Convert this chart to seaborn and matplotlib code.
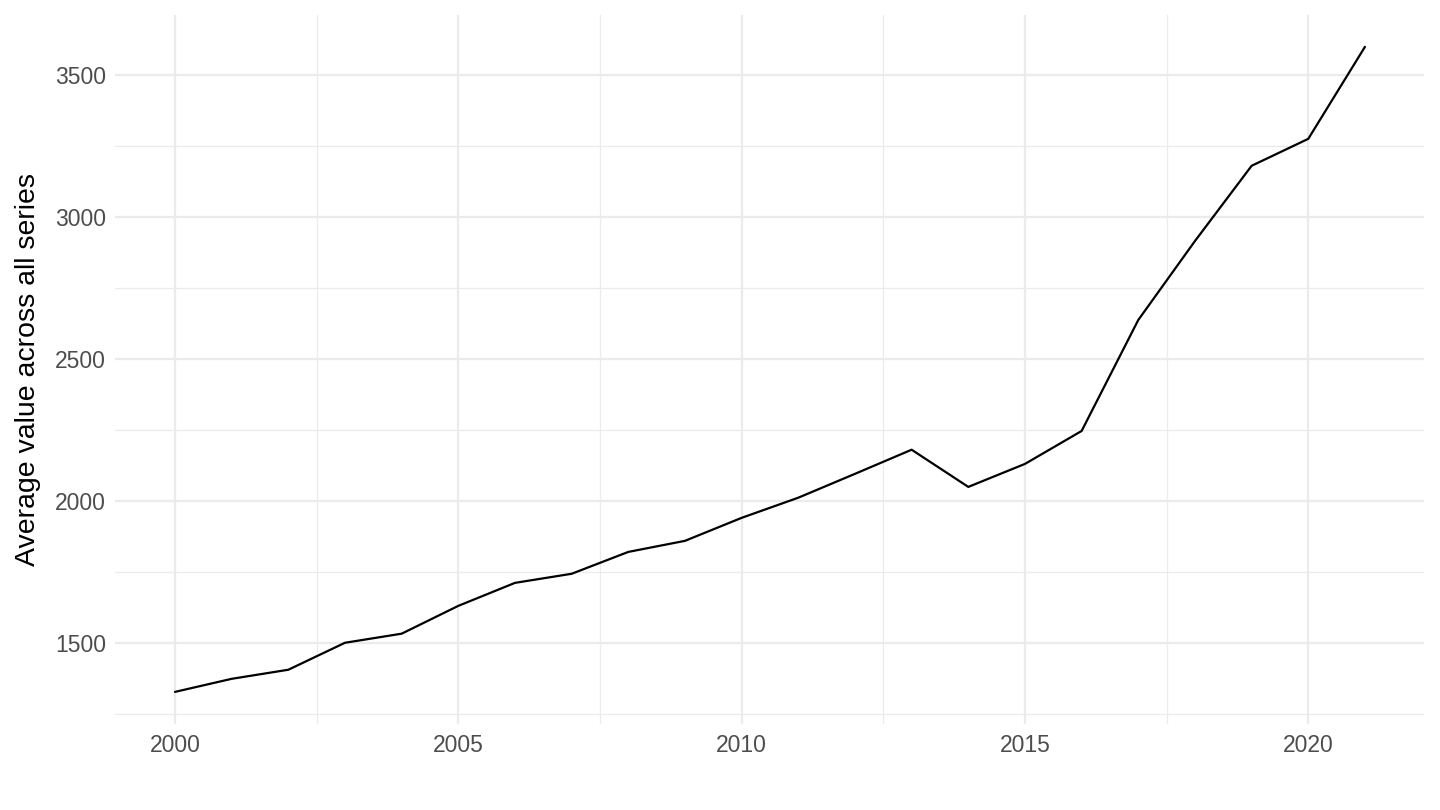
import matplotlib
matplotlib.use("Agg")
import matplotlib.pyplot as plt
import seaborn as sns
import pandas as pd
from matplotlib.ticker import MultipleLocator

years = list(range(2000, 2022))
values = [1327, 1373, 1405, 1500, 1532, 1630, 1711, 1743, 1820, 1859, 1940,
          2011, 2095, 2180, 2049, 2130, 2246, 2637, 2915, 3180, 3275, 3599]
x_ticks = [2000, 2005, 2010, 2015, 2020]
y_ticks = [1500, 2000, 2500, 3000, 3500]
y_label = "Average value across all series"

sns.set_theme(style="white")
plt.rcParams['font.family'] = ['Liberation Sans', 'DejaVu Sans']

df = pd.DataFrame({"year": years, "value": values})

fig = plt.figure(figsize=(14.4, 8.1), dpi=100)
ax = fig.add_axes([0.0802, 0.106, 0.909, 0.876])
sns.lineplot(data=df, x="year", y="value", color="black", linewidth=1.6, ax=ax)

rng_x = years[-1] - years[0]
ax.set_xlim(years[0] - 0.05 * rng_x, years[-1] + 0.05 * rng_x)
rng_y = max(values) - min(values)
ax.set_ylim(min(values) - 0.05 * rng_y, max(values) + 0.05 * rng_y)

ax.set_xticks(x_ticks)
ax.set_yticks(y_ticks)
ax.xaxis.set_minor_locator(MultipleLocator(2.5))
ax.yaxis.set_minor_locator(MultipleLocator(250))
ax.grid(which="major", color="#EBEBEB", linewidth=1.6)
ax.grid(which="minor", color="#EBEBEB", linewidth=0.9)
ax.set_axisbelow(True)
for s in ax.spines.values():
    s.set_visible(False)
ax.tick_params(axis="both", which="both", length=0, labelsize=16.5, labelcolor="#4D4D4D", pad=7)
ax.set_xlabel("")
ax.set_ylabel(y_label, fontsize=20.5, color="black", labelpad=10)

fig.savefig("out.png", dpi=100)
